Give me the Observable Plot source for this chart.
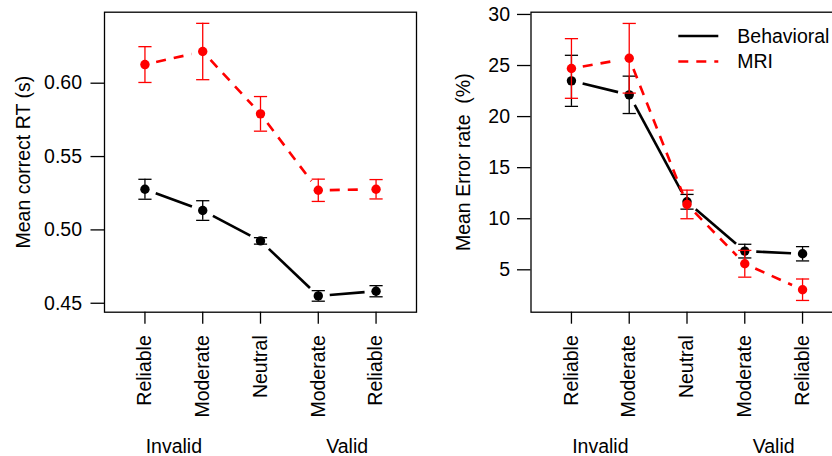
<!DOCTYPE html>
<html>
<head>
<meta charset="utf-8">
<script src="https://cdn.jsdelivr.net/npm/d3@7"></script>
<script src="https://cdn.jsdelivr.net/npm/@observablehq/plot@0.6"></script>
<style>
  html, body { margin: 0; padding: 0; background: white; overflow: hidden; }
  #page { position: relative; width: 832px; height: 456px; overflow: hidden; font-family: "Liberation Sans", Arial, sans-serif; }
  #left, #right { position: absolute; top: 0; }
  #left { left: 0; }
  #right { left: 420px; }
  #legend { position: absolute; left: 660px; top: 20px; }
  svg { max-width: none !important; }
</style>
</head>
<body>
<div id="page">
  <div id="left"></div>
  <div id="right"></div>
  <div id="legend"></div>
</div>
<script>
// ---- data ----
const conditions = ["Reliable", "Moderate", "Neutral", "Moderate", "Reliable"];
const conditionPos = [1, 2, 3, 4, 5];
const groups = ["Invalid", "Valid"];
const groupPos = [1.5, 4.5];
const seriesNames = ["Behavioral", "MRI"];
const seriesColors = ["black", "#ff0000"];
const seriesDash = [null, "10,8"];

const rtBehavioral   = [0.5277, 0.5132, 0.4925, 0.4550, 0.4582];
const rtBehavioralSE = [0.0068, 0.0067, 0.0022, 0.0036, 0.0038];
const rtMRI          = [0.6127, 0.6216, 0.5791, 0.5270, 0.5277];
const rtMRISE        = [0.0122, 0.0192, 0.0118, 0.0076, 0.0066];

const errBehavioral   = [23.50, 22.13, 11.66, 6.83, 6.57];
const errBehavioralSE = [2.50, 1.83, 0.72, 0.67, 0.70];
const errMRI          = [24.71, 25.71, 11.40, 5.59, 3.05];
const errMRISE        = [2.92, 3.41, 1.40, 1.31, 1.05];

const rtTicks = [0.45, 0.50, 0.55, 0.60];
const errTicks = [5, 10, 15, 20, 25, 30];

// ---- helpers ----
function rows(means, ses, s) {
  return means.map((m, i) => ({x: conditionPos[i], y: m, lo: m - ses[i], hi: m + ses[i], s}));
}
const capSymbol = { draw(ctx) { ctx.moveTo(-6.6, 0); ctx.lineTo(6.6, 0); } };

function seriesMarks(data, s) {
  const color = seriesColors[s];
  const segs = d3.pairs(data).map(([a, b]) => ({x1: a.x, y1: a.y, x2: b.x, y2: b.y}));
  return [
    Plot.arrow(segs, {x1: "x1", y1: "y1", x2: "x2", y2: "y2", bend: 0, headLength: 0,
      insetStart: 11.5, insetEnd: 11.5, stroke: color, strokeWidth: 2.6,
      strokeDasharray: seriesDash[s], strokeLinecap: "butt"}),
    Plot.ruleX(data, {x: "x", y1: "lo", y2: "hi", stroke: color, strokeWidth: 1.3}),
    Plot.dot(data, {x: "x", y: "lo", symbol: capSymbol, stroke: color, strokeWidth: 1.3, fill: "none"}),
    Plot.dot(data, {x: "x", y: "hi", symbol: capSymbol, stroke: color, strokeWidth: 1.3, fill: "none"}),
    Plot.dot(data, {x: "x", y: "y", r: 4.7, fill: color, stroke: "none"})
  ];
}

function panel({width, marginLeft, marginRight, domain, ticks, fmt, label, labelDx, tickPadding, series}) {
  return Plot.plot({
    width, height: 456,
    marginTop: 11.7, marginBottom: 144.3, marginLeft, marginRight,
    x: {domain: [0.3, 5.7]},
    y: {domain},
    style: {fontFamily: "'Liberation Sans', Arial, sans-serif", fontSize: "19.5px", color: "black", background: "transparent", overflow: "visible"},
    marks: [
      Plot.frame({stroke: "black", strokeWidth: 1.3}),
      Plot.axisY(ticks, {tickSize: 13.5, tickPadding, tickFormat: fmt, label: null, strokeWidth: 1.3}),
      Plot.axisX(conditionPos, {tickSize: 12, tickPadding: 11, tickRotate: -90, tickFormat: (d, i) => conditions[i], label: null, strokeWidth: 1.3}),
      Plot.text(groups, {x: (d, i) => groupPos[i], text: d => d, frameAnchor: "bottom", dy: 135, lineAnchor: "middle"}),
      Plot.text([label], {text: d => d, frameAnchor: "left", dx: labelDx, rotate: -90, textAnchor: "middle", lineAnchor: "middle"}),
      ...series.flatMap((d, s) => seriesMarks(d, s))
    ]
  });
}

document.getElementById("left").append(panel({
  width: 420, marginLeft: 104, marginRight: 4,
  domain: [0.4439, 0.6484], ticks: rtTicks, fmt: d3.format(".2f"),
  label: "Mean correct RT (s)", labelDx: -80.7, tickPadding: 9,
  series: [rows(rtBehavioral, rtBehavioralSE, 0), rows(rtMRI, rtMRISE, 1)]
}));

document.getElementById("right").append(panel({
  width: 423, marginLeft: 110.5, marginRight: 0.5,
  domain: [0.85, 30.22], ticks: errTicks, fmt: d3.format("d"),
  label: "Mean Error rate\u00A0 (%)", labelDx: -67, tickPadding: 7.5,
  series: [rows(errBehavioral, errBehavioralSE, 0), rows(errMRI, errMRISE, 1)]
}));

// ---- legend ----
const ns = "http://www.w3.org/2000/svg";
const lg = document.createElementNS(ns, "svg");
lg.setAttribute("width", 172); lg.setAttribute("height", 60);
seriesNames.forEach((name, i) => {
  const cy = 16 + i * 25.5;
  const line = document.createElementNS(ns, "line");
  line.setAttribute("x1", 18.3); line.setAttribute("x2", 58.3);
  line.setAttribute("y1", cy); line.setAttribute("y2", cy);
  line.setAttribute("stroke", seriesColors[i]);
  line.setAttribute("stroke-width", 2.6);
  if (seriesDash[i]) line.setAttribute("stroke-dasharray", seriesDash[i]);
  lg.append(line);
  const t = document.createElementNS(ns, "text");
  t.setAttribute("x", 77.3); t.setAttribute("y", cy);
  t.setAttribute("dy", "0.35em");
  t.setAttribute("font-size", "19.5px");
  t.setAttribute("font-family", "'Liberation Sans', Arial, sans-serif");
  t.textContent = name;
  lg.append(t);
});
document.getElementById("legend").append(lg);
</script>
</body>
</html>
